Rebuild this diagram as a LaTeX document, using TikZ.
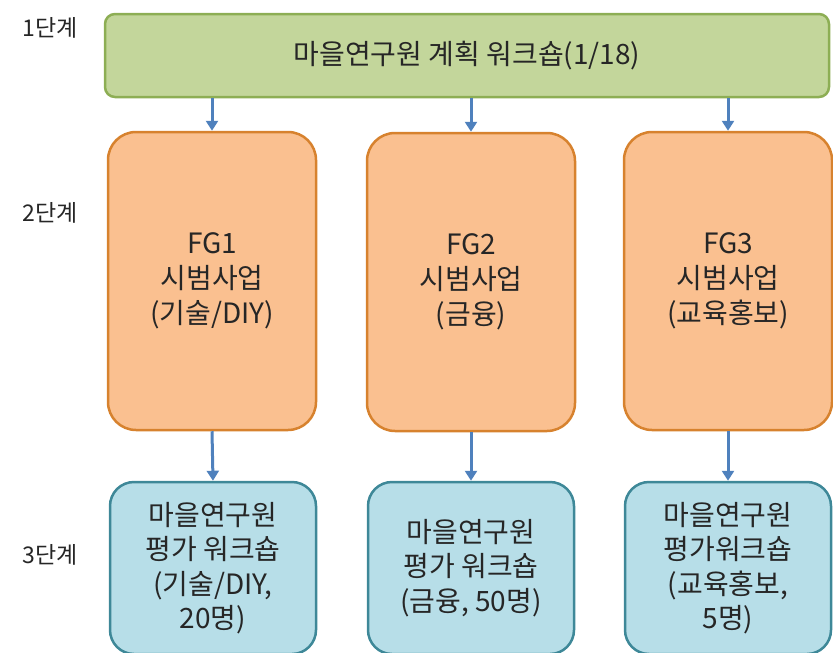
\documentclass[tikz,border=0pt]{standalone}
\usepackage{fontspec}
\setmainfont{Noto Sans CJK KR}
\usepackage{xcolor}
\usepackage{tikz}
\usetikzlibrary{positioning,calc,arrows.meta}

\definecolor{stagegreen}{HTML}{C3D69B}
\definecolor{stagegreenline}{HTML}{8DAE54}
\definecolor{fgorange}{HTML}{FAC090}
\definecolor{fgorangeline}{HTML}{D7822E}
\definecolor{evalblue}{HTML}{B7DEE8}
\definecolor{evalblueline}{HTML}{3E8898}
\definecolor{arrowblue}{HTML}{4F81BD}

\begin{document}
\begin{tikzpicture}[x=1pt,y=-1pt,
    planbox/.style={draw=stagegreenline,fill=stagegreen,line width=2.5pt,rounded corners=10pt,
        minimum width=724pt,minimum height=83pt,font=\fontsize{28}{35}\selectfont,text=black!85},
    fgbox/.style={draw=fgorangeline,fill=fgorange,line width=2.5pt,rounded corners=28pt,
        minimum width=208pt,minimum height=298pt,align=center,font=\fontsize{28}{35}\selectfont,text=black!85},
    evalbox/.style={draw=evalblueline,fill=evalblue,line width=2.5pt,rounded corners=24pt,
        minimum width=206pt,minimum height=172pt,align=center,font=\fontsize{28}{34.5}\selectfont,text=black!85},
    stagelabel/.style={font=\fontsize{23}{26}\selectfont,text=black!85},
    flow/.style={draw=arrowblue,line width=3pt,-{Triangle[length=10pt,width=12pt]}}]
    \useasboundingbox (0,0) rectangle (833,653);

    % Stage labels
    \node[stagelabel] (s1) at (50,28) {1단계};
    \node[stagelabel] (s2) at (50,213) {2단계};
    \node[stagelabel] (s3) at (50,555) {3단계};

    % Stage 1: planning workshop
    \node[planbox] (plan) at (467,55.5) {마을연구원 계획 워크숍(1/18)};

    % Stage 2: pilot projects
    \node[fgbox] (fg1) at (212,281) {FG1\\시범사업\\(기술/DIY)};
    \node[fgbox] (fg2) at (471,282) {FG2\\시범사업\\(금융)};
    \node[fgbox] (fg3) at (728,281) {FG3\\시범사업\\(교육홍보)};

    % Stage 3: evaluation workshops
    \node[evalbox] (ev1) at (213,568) {마을연구원\\평가 워크숍\\(기술/DIY,\\20명)};
    \node[evalbox] (ev2) at (471,568) {마을연구원\\평가 워크숍\\(금융, 50명)};
    \node[evalbox] (ev3) at (728,568) {마을연구원\\평가워크숍\\(교육홍보,\\5명)};

    % Arrows
    \draw[flow] (fg1.north |- plan.south) -- (fg1.north);
    \draw[flow] (fg2.north |- plan.south) -- (fg2.north);
    \draw[flow] (fg3.north |- plan.south) -- (fg3.north);
    \draw[flow] (fg1.south) -- (ev1.north);
    \draw[flow] (fg2.south) -- (ev2.north);
    \draw[flow] (fg3.south) -- (ev3.north);
\end{tikzpicture}
\end{document}
